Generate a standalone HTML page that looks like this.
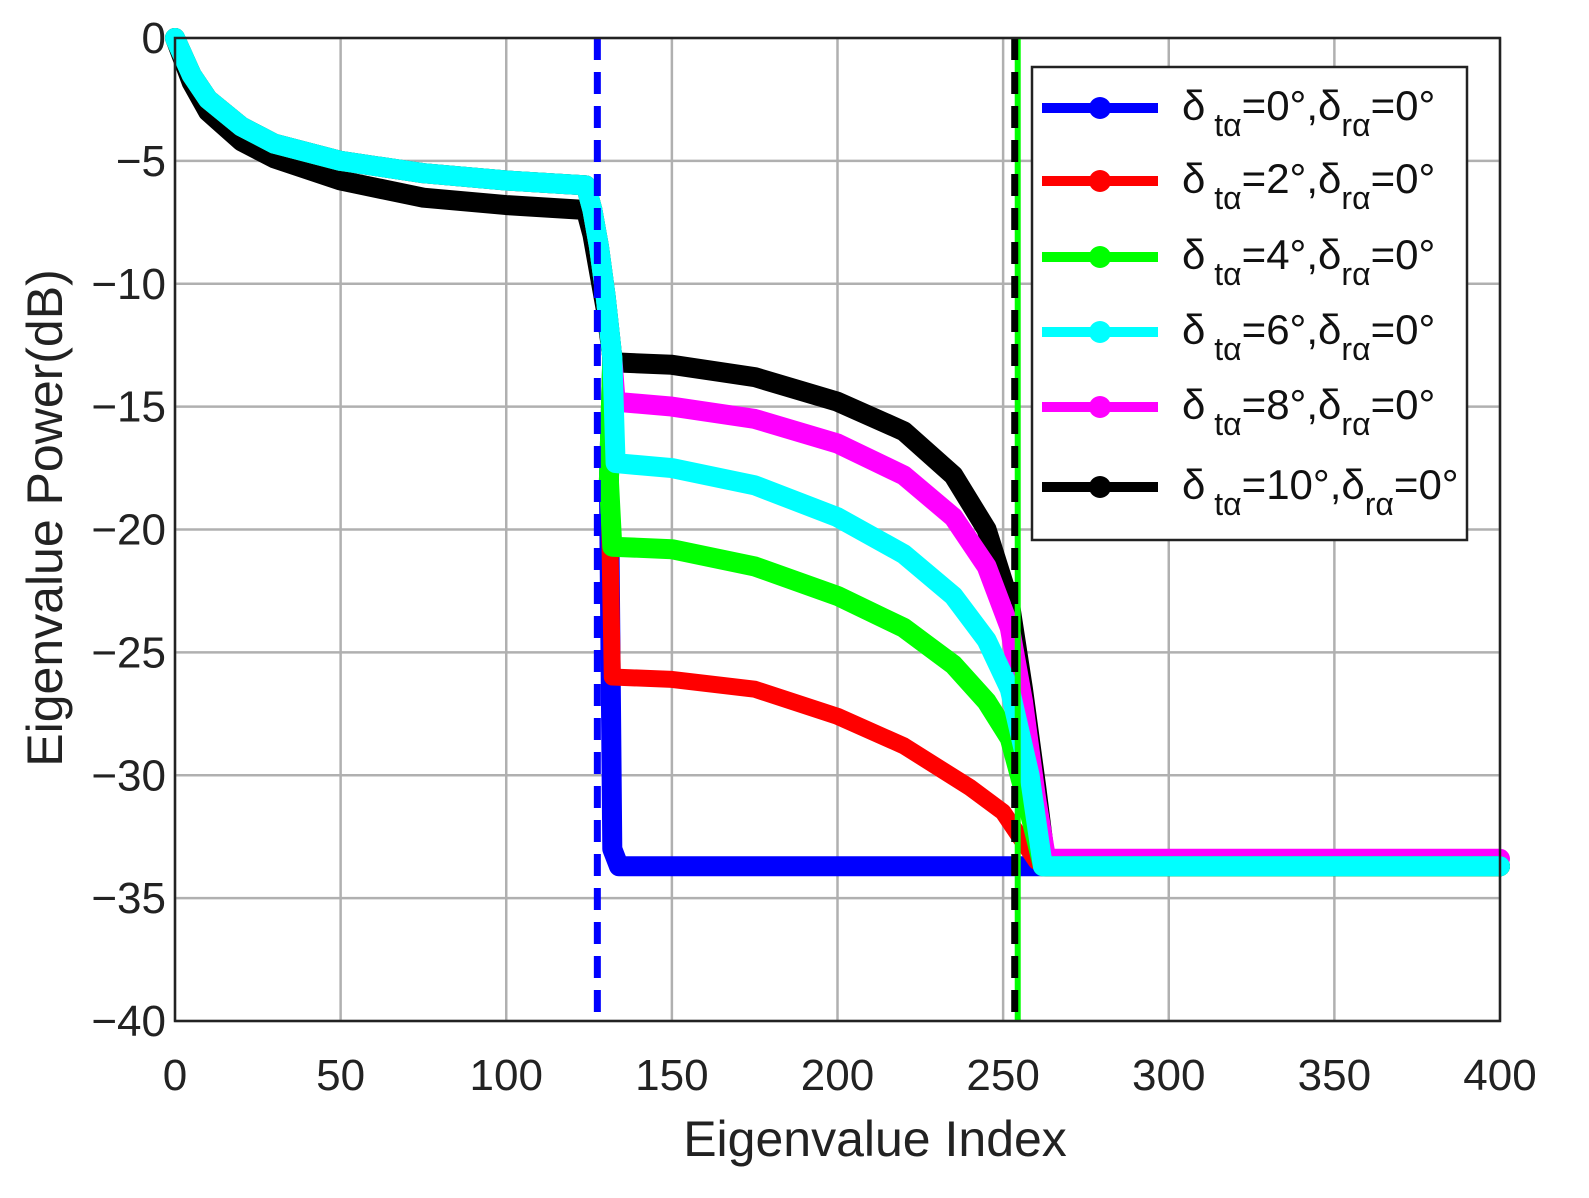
<!DOCTYPE html>
<html><head><meta charset="utf-8"><style>
body{margin:0;background:#fff}
svg{display:block;font-family:"Liberation Sans",Arial,sans-serif}
</style></head><body>
<svg id="chart" width="1589" height="1198" viewBox="0 0 1589 1198">
<g id="grid"></g>
<g id="series"></g>
<g id="axes"></g>
<text x="875" y="1156" font-size="50" text-anchor="middle" fill="#222">Eigenvalue Index</text>
<text transform="translate(62,518) rotate(-90)" font-size="50" text-anchor="middle" fill="#222">Eigenvalue Power(dB)</text>
<g id="legend"></g>
</svg>
<script>
const xTicks=[0,50,100,150,200,250,300,350,400];
const yTicks=[0,-5,-10,-15,-20,-25,-30,-35,-40];
const names=["0","2","4","6","8","10"];
const colors=["#0000ff","#ff0000","#00ff00","#00ffff","#ff00ff","#000000"];
const headX=[0,5,10,20,30,50,75,100,124,126,128,130,132];
const headY=[0,-1.5,-2.5,-3.6,-4.3,-5.0,-5.5,-5.8,-6.0,-7,-8.5,-10.5,-13];
const blackHeadY=[0,-1.8,-3,-4.2,-4.9,-5.8,-6.5,-6.8,-7,-8,-9.5,-11,-13];
const blueX=[131,132,134,400];
const blueY=[-18,-33,-33.7,-33.7];
const redX=[131,132,150,175,200,220,240,250,255,260,263,400];
const redY=[-18,-26,-26.1,-26.5,-27.6,-28.8,-30.5,-31.5,-32.5,-33.5,-33.7,-33.7];
const greenX=[131,132,150,175,200,220,235,245,252,258,262,400];
const greenY=[-18,-20.7,-20.8,-21.5,-22.7,-24,-25.5,-27,-28.5,-31.5,-33.7,-33.7];
const cyanX=[133,150,175,200,220,235,245,252,258,262,400];
const cyanY=[-17.3,-17.5,-18.2,-19.5,-21,-22.7,-24.5,-26.5,-30,-33.7,-33.7];
const magX=[133,150,175,200,220,235,245,252,256,260,263,400];
const magY=[-14.8,-15,-15.5,-16.5,-17.8,-19.5,-21.5,-24,-27,-31,-33.4,-33.4];
const blkX=[133,150,175,200,220,235,245,252,256,260,263,400];
const blkY=[-13.2,-13.3,-13.8,-14.8,-16,-17.8,-20,-23,-26.5,-30.5,-33.7,-33.7];
const vlineBlue=127.5, vlineBlack=253.5;

const NS="http://www.w3.org/2000/svg";
const X0=175,X1=1500,Y0=38,Y1=1021;
const sx=v=>X0+(v-0)/400*(X1-X0);
const sy=v=>Y0+(0-v)/40*(Y1-Y0);
function mk(t,a,p){const e=document.createElementNS(NS,t);for(const k in a)e.setAttribute(k,a[k]);p.appendChild(e);return e;}
const grid=document.getElementById('grid'),axes=document.getElementById('axes'),ser=document.getElementById('series'),leg=document.getElementById('legend');
xTicks.forEach(t=>{
 const l=mk('line',{x1:sx(t),x2:sx(t),y1:Y0,y2:Y1,stroke:'#b0b0b0','stroke-width':2.5},grid);
 
 
 const tx=mk('text',{x:sx(t),y:1090,'font-size':44,'text-anchor':'middle',fill:'#222'},axes);tx.textContent=t;
 
 
});
yTicks.forEach(t=>{
 const l=mk('line',{x1:X0,x2:X1,y1:sy(t),y2:sy(t),stroke:'#b0b0b0','stroke-width':2.5},grid);
 
 
 const tx=mk('text',{x:166,y:sy(t)+15,'font-size':44,'text-anchor':'end',fill:'#222'},axes);tx.textContent=t===0?'0':'\u2212'+Math.abs(t);
 
 
});
const box=mk('rect',{x:X0,y:Y0,width:X1-X0,height:Y1-Y0,fill:'none',stroke:'#222','stroke-width':2.5},axes);


function path(xs,ys,c,w,name){
 const d=xs.map((x,i)=>(i?'L':'M')+sx(x).toFixed(1)+','+sy(ys[i]).toFixed(1)).join('');
 const p=mk('path',{d:d,fill:'none',stroke:c,'stroke-width':w,'stroke-linejoin':'round','stroke-linecap':'round'},ser);
 
 
}
const order=[[0,blueX,blueY],[1,redX,redY],[5,blkX,blkY],[4,magX,magY],[2,greenX,greenY],[3,cyanX,cyanY]];
order.forEach(([i,xs,ys])=>{
 const hy=i===5?blackHeadY:headY;
 const w=i===1?17:20;
 path(headX.concat(xs),hy.concat(ys),colors[i],w,'series-delta-'+names[i]);
});
[[vlineBlue,'#0000ff','vline-blue'],[vlineBlack,'#00ff00','vline-green'],[vlineBlack,'#000','vline-black']].forEach(([v,c,n],k)=>{
 const l=mk('line',{x1:sx(v)+(k===1?3:0),x2:sx(v)+(k===1?3:0),y1:Y0,y2:Y1,stroke:c,'stroke-width':k===1?6:7,'stroke-dasharray':k===1?'none':'22,12'},ser);
 
 
});
const lb=mk('rect',{x:1032,y:67,width:435,height:473,fill:'#fff',stroke:'#222','stroke-width':2.5},leg);


const ly=[108,181,257,332,407,487];
names.forEach((n,i)=>{
 const g=mk('g',{},leg);
 
 
 mk('line',{x1:1042,x2:1158,y1:ly[i],y2:ly[i],stroke:colors[i],'stroke-width':10},g);
 mk('circle',{cx:1100,cy:ly[i],r:11,fill:colors[i]},g);
 const t=mk('text',{x:1182,y:ly[i]+12,'font-size':42,fill:'#111'},g);
 t.innerHTML='\u03b4<tspan dy="16" font-size="32"> t\u03b1</tspan><tspan dy="-16">='+n+'\u00b0,\u03b4</tspan><tspan dy="16" font-size="32">r\u03b1</tspan><tspan dy="-16">=0\u00b0</tspan>';
});
</script>
</body></html>
